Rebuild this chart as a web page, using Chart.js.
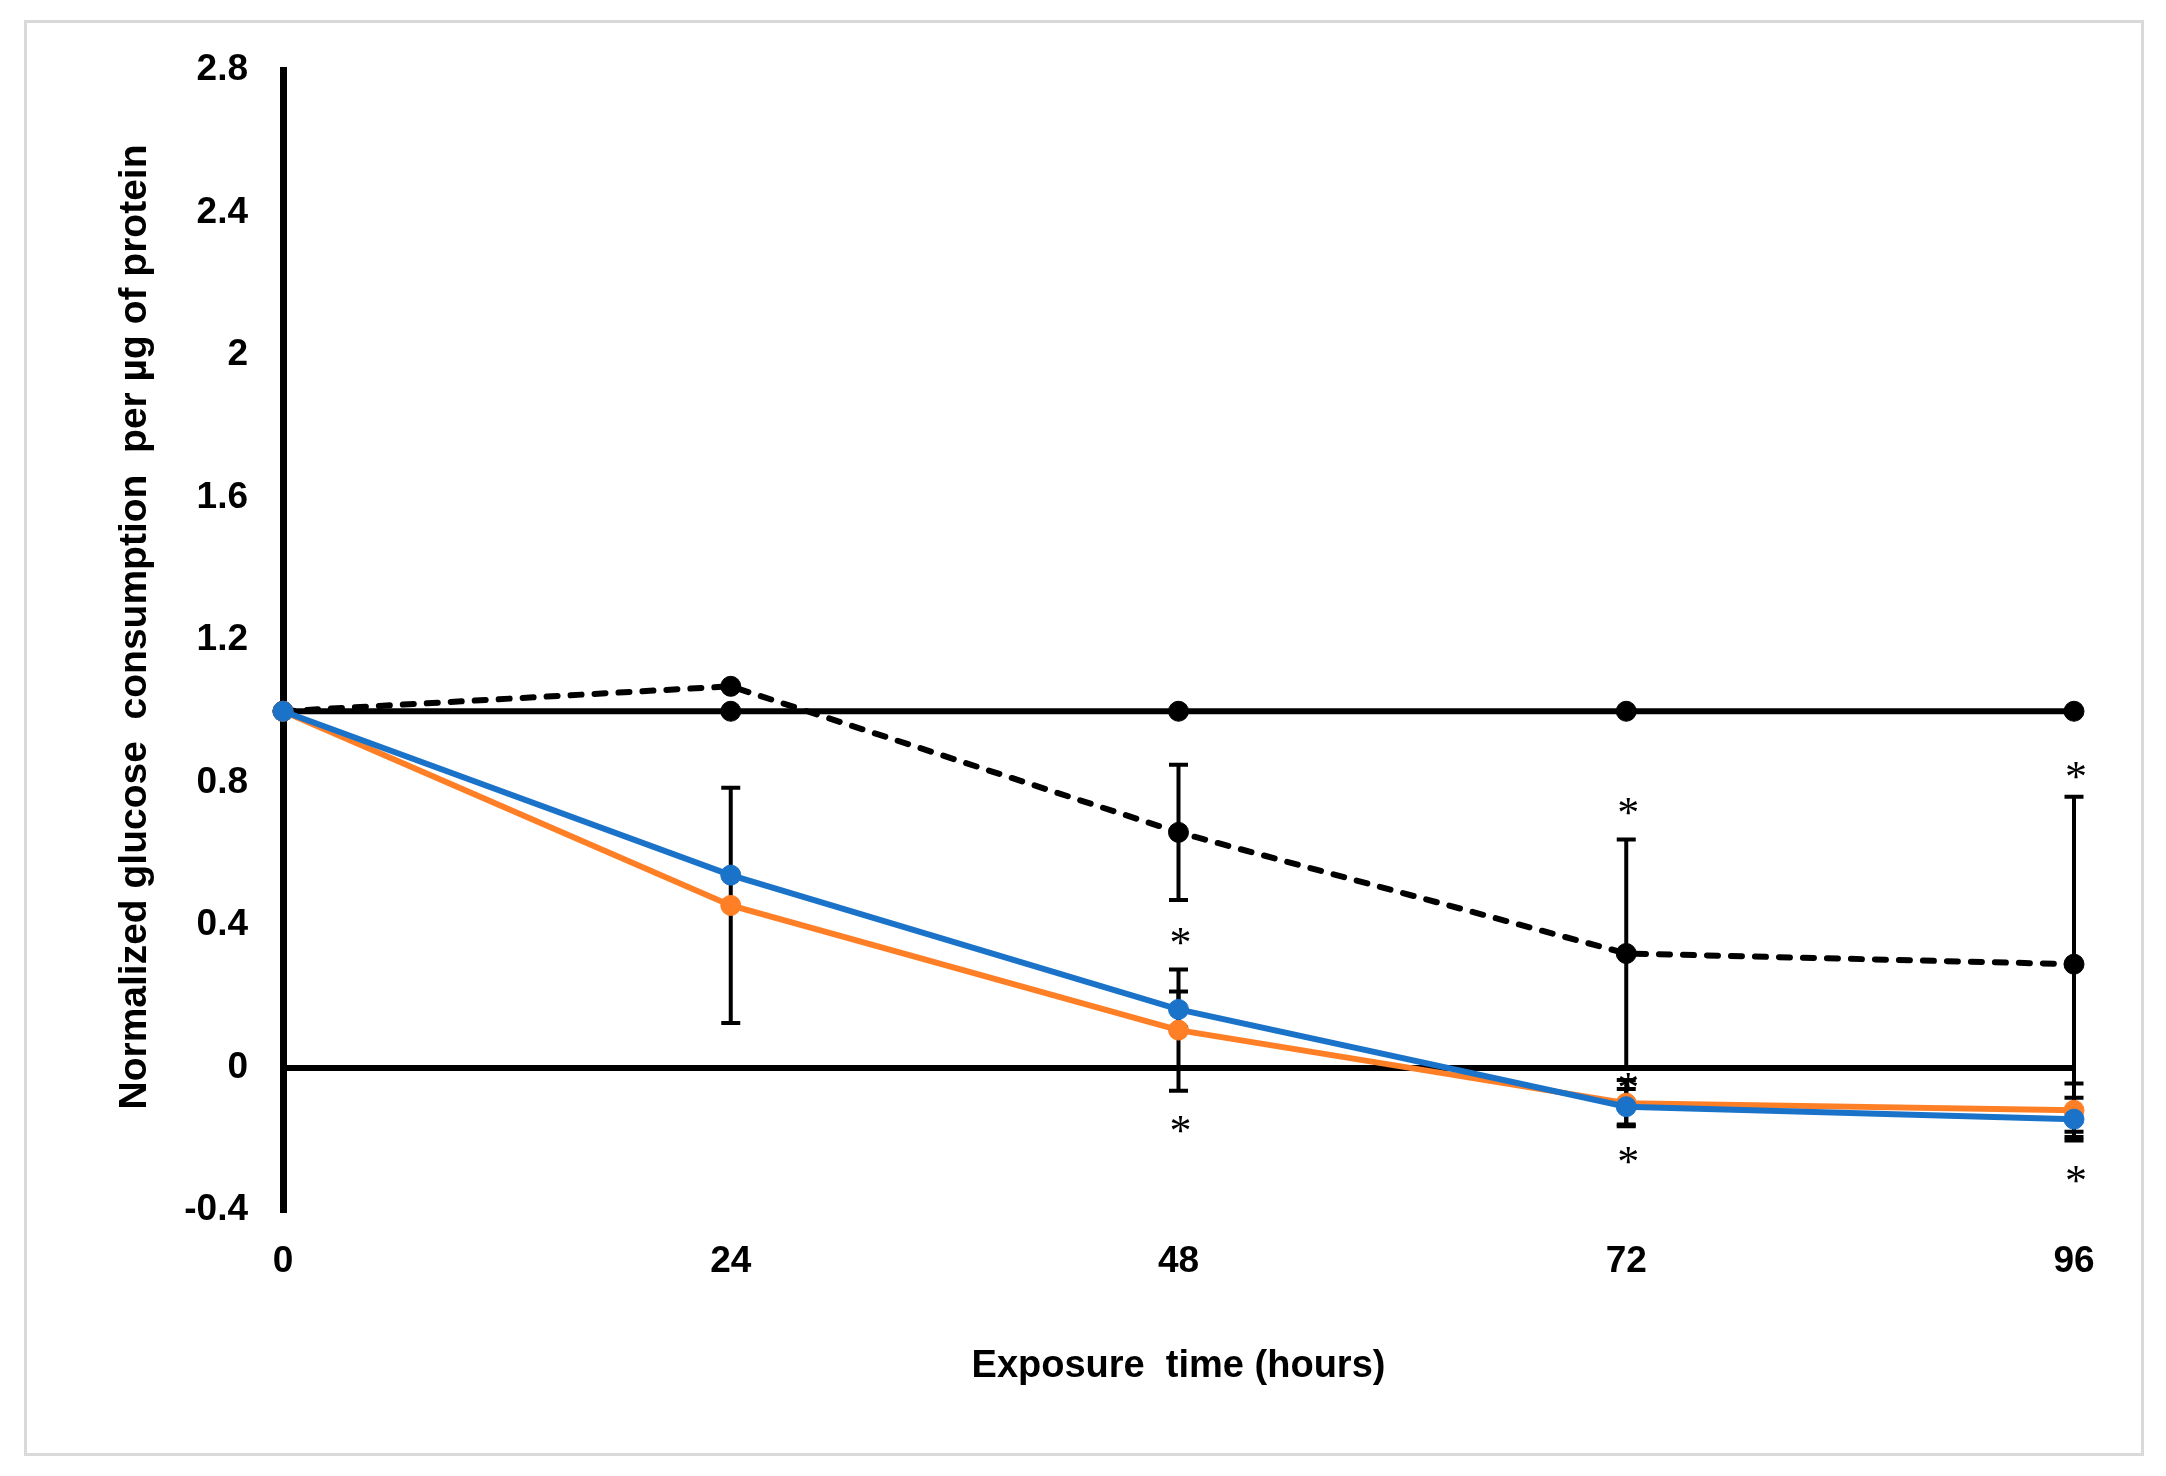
<!DOCTYPE html>
<html>
<head>
<meta charset="utf-8">
<script src="https://cdn.jsdelivr.net/npm/chart.js@4.4.1/dist/chart.umd.min.js"></script>
<style>
  html, body { margin: 0; padding: 0; background: #fff; }
  #wrap { position: relative; width: 2166px; height: 1476px; }
  #wrap canvas { position: absolute; left: 0; top: 0; }
  #frame { position: absolute; left: 24px; top: 20px; width: 2114px; height: 1430px;
           border: 3px solid #d9d9d9; pointer-events: none; }
</style>
</head>
<body>
<div id="wrap">
  <canvas id="glucoseChart"></canvas>
  <div id="frame"></div>
</div>
<script>
// values
const hours = [0, 24, 48, 72, 96];
const control = [1, 1, 1, 1, 1];
const dashedVals = [1.0, 1.07, 0.66, 0.32, 0.29];
const dashedErr = [0, 0, 0.19, 0.32, 0.47];
const orangeVals = [1.0, 0.455, 0.105, -0.10, -0.12];
const orangeErr = [0, 0.33, 0.17, 0.065, 0.075];
const blueVals = [1.0, 0.54, 0.163, -0.11, -0.145];
const blueErr = [0, 0, 0.05, 0.05, 0.06];

const starHours = [48, 48, 72, 72, 72, 96, 96];
const starVals = [0.37, -0.158, 0.733, -0.037, -0.247, 0.835, -0.30];

const yTickVals = [-0.4, 0, 0.4, 0.8, 1.2, 1.6, 2, 2.4, 2.8];
const yTickLabels = ["-0.4", "0", "0.4", "0.8", "1.2", "1.6", "2", "2.4", "2.8"];
const xTickVals = [0, 24, 48, 72, 96];
const xTickLabels = ["0", "24", "48", "72", "96"];

const xTitle = "Exposure  time (hours)";
const yTitle = "Normalized glucose  consumption  per µg of protein";

const ORANGE = "#FF7F27";
const BLUE = "#1A73C9";

const pts = (vals) => vals.map((v, i) => ({ x: hours[i], y: v }));

const lineSet = (label, vals, color, err, dash) => ({
  label,
  data: pts(vals),
  err,
  borderColor: color,
  backgroundColor: color,
  borderWidth: 6,
  borderDash: dash || [],
  borderCapStyle: dash ? "round" : "butt",
  pointRadius: 10,
  pointBorderWidth: 1,
  pointBorderColor: color,
  pointBackgroundColor: color,
  tension: 0,
  clip: false
});

const errorBars = {
  id: "errorBars",
  beforeDatasetsDraw(chart) {
    const { ctx, scales: { x, y } } = chart;
    ctx.save();
    ctx.strokeStyle = "#000";
    ctx.lineWidth = 4;
    chart.data.datasets.forEach(ds => {
      if (!ds.err) return;
      ds.data.forEach((p, i) => {
        const e = ds.err[i];
        if (!e) return;
        const px = x.getPixelForValue(p.x);
        const top = y.getPixelForValue(p.y + e);
        const bot = y.getPixelForValue(p.y - e);
        ctx.beginPath();
        ctx.moveTo(px, top); ctx.lineTo(px, bot);
        ctx.moveTo(px - 9.5, top); ctx.lineTo(px + 9.5, top);
        ctx.moveTo(px - 9.5, bot); ctx.lineTo(px + 9.5, bot);
        ctx.stroke();
      });
    });
    ctx.restore();
  }
};

const extras = {
  id: "extras",
  afterDraw(chart) {
    const { ctx, scales: { x, y } } = chart;
    ctx.save();
    ctx.fillStyle = "#000";
    // significance stars
    ctx.font = '44px "Liberation Serif"';
    ctx.textAlign = "center";
    ctx.textBaseline = "alphabetic";
    starHours.forEach((h, i) => {
      ctx.fillText("*", x.getPixelForValue(h) + 2, y.getPixelForValue(starVals[i]) + 21);
    });
    // y axis title
    ctx.font = 'bold 39px "Liberation Sans"';
    ctx.translate(146, 627);
    ctx.rotate(-Math.PI / 2);
    ctx.fillText(yTitle, 0, 0);
    ctx.restore();
  }
};

new Chart(document.getElementById("glucoseChart"), {
  type: "line",
  data: {
    datasets: [
      lineSet("Blue", blueVals, BLUE, blueErr),
      lineSet("Orange", orangeVals, ORANGE, orangeErr),
      lineSet("Dashed", dashedVals, "#000", dashedErr, [11, 13]),
      lineSet("Control", control, "#000", null)
    ]
  },
  options: {
    responsive: true,
    maintainAspectRatio: false,
    devicePixelRatio: 1,
    animation: false,
    layout: { padding: { top: 70, right: 92, left: 0, bottom: 0 } },
    plugins: { legend: { display: false }, tooltip: { enabled: false } },
    scales: {
      x: {
        type: "linear",
        min: 0,
        max: 96,
        afterBuildTicks: s => { s.ticks = xTickVals.map(v => ({ value: v })); },
        afterFit: s => { s.height = 266; },
        grid: { display: false, drawTicks: false },
        border: { display: false },
        ticks: {
          padding: 30,
          color: "#000",
          font: { family: "Liberation Sans", size: 37, weight: "bold" },
          callback: (v, i) => xTickLabels[i]
        },
        title: {
          display: true,
          text: xTitle,
          color: "#000",
          font: { family: "Liberation Sans", size: 38, weight: "bold" },
          padding: { top: 87, bottom: 87 }
        }
      },
      y: {
        min: -0.4,
        max: 2.8,
        afterBuildTicks: s => { s.ticks = yTickVals.map(v => ({ value: v })); },
        afterFit: s => { s.width = 283; },
        grid: {
          drawTicks: false,
          lineWidth: 6,
          color: c => (c.tick && c.tick.value === 0 ? "#000" : "rgba(0,0,0,0)")
        },
        border: { display: true, color: "#000", width: 7 },
        ticks: {
          padding: 35,
          color: "#000",
          font: { family: "Liberation Sans", size: 37, weight: "bold" },
          callback: (v, i) => yTickLabels[i]
        }
      }
    }
  },
  plugins: [errorBars, extras]
});
</script>
</body>
</html>
